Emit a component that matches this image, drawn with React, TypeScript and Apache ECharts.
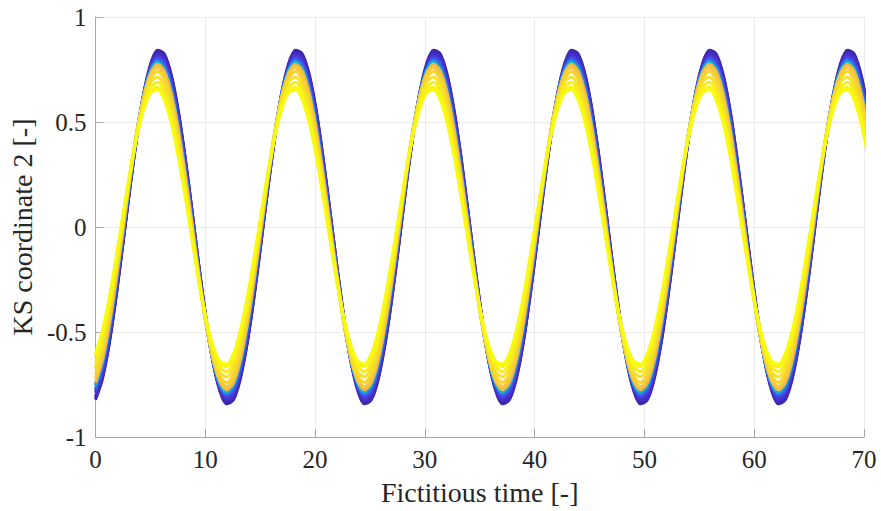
import React, { useEffect, useRef } from "react";
import * as echarts from "echarts";

// Fictitious time samples (x)
const X_SAMPLES = [
  0, 0.63, 1.26, 1.88, 2.51, 3.14, 3.77, 4.4, 5.03, 5.65,
  6.28, 6.91, 7.54, 8.17, 8.8, 9.42, 10.05, 10.68, 11.31, 11.94,
  12.57, 13.19, 13.82, 14.45, 15.08, 15.71, 16.34, 16.96, 17.59, 18.22,
  18.85, 19.48, 20.11, 20.73, 21.36, 21.99, 22.62, 23.25, 23.88, 24.5,
  25.13, 25.76, 26.39, 27.02, 27.65, 28.27, 28.9, 29.53, 30.16, 30.79,
  31.42, 32.04, 32.67, 33.3, 33.93, 34.56, 35.19, 35.81, 36.44, 37.07,
  37.7, 38.33, 38.96, 39.58, 40.21, 40.84, 41.47, 42.1, 42.73, 43.35,
  43.98, 44.61, 45.24, 45.87, 46.5, 47.12, 47.75, 48.38, 49.01, 49.64,
  50.27, 50.89, 51.52, 52.15, 52.78, 53.41, 54.04, 54.66, 55.29, 55.92,
  56.55, 57.18, 57.81, 58.43, 59.06, 59.69, 60.32, 60.95, 61.58, 62.2,
  62.83, 63.46, 64.09, 64.72, 65.35, 65.97, 66.6, 67.23, 67.86, 68.49,
  69.12, 69.74, 70.37,
];

// KS coordinate 2 of each trajectory, outer (dark blue) to inner (yellow)
const CURVE_00 = [
  -0.823, -0.724, -0.554, -0.33, -0.074, 0.19, 0.435, 0.638, 0.778, 0.842,
  0.823, 0.724, 0.554, 0.33, 0.074, -0.19, -0.435, -0.638, -0.778, -0.842,
  -0.823, -0.724, -0.554, -0.33, -0.074, 0.19, 0.435, 0.638, 0.778, 0.842,
  0.823, 0.724, 0.554, 0.33, 0.074, -0.19, -0.435, -0.638, -0.778, -0.842,
  -0.823, -0.724, -0.554, -0.33, -0.074, 0.19, 0.435, 0.638, 0.778, 0.842,
  0.823, 0.724, 0.554, 0.33, 0.074, -0.19, -0.435, -0.638, -0.778, -0.842,
  -0.823, -0.724, -0.554, -0.33, -0.074, 0.19, 0.435, 0.638, 0.778, 0.842,
  0.823, 0.724, 0.554, 0.33, 0.074, -0.19, -0.435, -0.638, -0.778, -0.842,
  -0.823, -0.724, -0.554, -0.33, -0.074, 0.19, 0.435, 0.638, 0.778, 0.842,
  0.823, 0.724, 0.554, 0.33, 0.074, -0.19, -0.435, -0.638, -0.778, -0.842,
  -0.823, -0.724, -0.554, -0.33, -0.074, 0.19, 0.435, 0.638, 0.778, 0.842,
  0.823, 0.724, 0.554,
];
const CURVE_01 = [
  -0.815, -0.717, -0.549, -0.327, -0.073, 0.188, 0.431, 0.631, 0.77, 0.833,
  0.815, 0.717, 0.549, 0.327, 0.073, -0.188, -0.431, -0.631, -0.77, -0.833,
  -0.815, -0.717, -0.549, -0.327, -0.073, 0.188, 0.431, 0.631, 0.77, 0.833,
  0.815, 0.717, 0.549, 0.327, 0.073, -0.188, -0.431, -0.631, -0.77, -0.833,
  -0.815, -0.717, -0.549, -0.327, -0.073, 0.188, 0.431, 0.631, 0.77, 0.833,
  0.815, 0.717, 0.549, 0.327, 0.073, -0.188, -0.431, -0.631, -0.77, -0.833,
  -0.815, -0.717, -0.549, -0.327, -0.073, 0.188, 0.431, 0.631, 0.77, 0.833,
  0.815, 0.717, 0.549, 0.327, 0.073, -0.188, -0.431, -0.631, -0.77, -0.833,
  -0.815, -0.717, -0.549, -0.327, -0.073, 0.188, 0.431, 0.631, 0.77, 0.833,
  0.815, 0.717, 0.549, 0.327, 0.073, -0.188, -0.431, -0.631, -0.77, -0.833,
  -0.815, -0.717, -0.549, -0.327, -0.073, 0.188, 0.431, 0.631, 0.77, 0.833,
  0.815, 0.717, 0.549,
];
const CURVE_02 = [
  -0.806, -0.709, -0.543, -0.323, -0.072, 0.186, 0.426, 0.624, 0.761, 0.824,
  0.806, 0.709, 0.543, 0.323, 0.072, -0.186, -0.426, -0.624, -0.761, -0.824,
  -0.806, -0.709, -0.543, -0.323, -0.072, 0.186, 0.426, 0.624, 0.761, 0.824,
  0.806, 0.709, 0.543, 0.323, 0.072, -0.186, -0.426, -0.624, -0.761, -0.824,
  -0.806, -0.709, -0.543, -0.323, -0.072, 0.186, 0.426, 0.624, 0.761, 0.824,
  0.806, 0.709, 0.543, 0.323, 0.072, -0.186, -0.426, -0.624, -0.761, -0.824,
  -0.806, -0.709, -0.543, -0.323, -0.072, 0.186, 0.426, 0.624, 0.761, 0.824,
  0.806, 0.709, 0.543, 0.323, 0.072, -0.186, -0.426, -0.624, -0.761, -0.824,
  -0.806, -0.709, -0.543, -0.323, -0.072, 0.186, 0.426, 0.624, 0.761, 0.824,
  0.806, 0.709, 0.543, 0.323, 0.072, -0.186, -0.426, -0.624, -0.761, -0.824,
  -0.806, -0.709, -0.543, -0.323, -0.072, 0.186, 0.426, 0.624, 0.761, 0.824,
  0.806, 0.709, 0.543,
];
const CURVE_03 = [
  -0.789, -0.685, -0.514, -0.293, -0.043, 0.211, 0.445, 0.635, 0.763, 0.816,
  0.789, 0.685, 0.514, 0.293, 0.043, -0.211, -0.445, -0.635, -0.763, -0.816,
  -0.789, -0.685, -0.514, -0.293, -0.043, 0.211, 0.445, 0.635, 0.763, 0.816,
  0.789, 0.685, 0.514, 0.293, 0.043, -0.211, -0.445, -0.635, -0.763, -0.816,
  -0.789, -0.685, -0.514, -0.293, -0.043, 0.211, 0.445, 0.635, 0.763, 0.816,
  0.789, 0.685, 0.514, 0.293, 0.043, -0.211, -0.445, -0.635, -0.763, -0.816,
  -0.789, -0.685, -0.514, -0.293, -0.043, 0.211, 0.445, 0.635, 0.763, 0.816,
  0.789, 0.685, 0.514, 0.293, 0.043, -0.211, -0.445, -0.635, -0.763, -0.816,
  -0.789, -0.685, -0.514, -0.293, -0.043, 0.211, 0.445, 0.635, 0.763, 0.816,
  0.789, 0.685, 0.514, 0.293, 0.043, -0.211, -0.445, -0.635, -0.763, -0.816,
  -0.789, -0.685, -0.514, -0.293, -0.043, 0.211, 0.445, 0.635, 0.763, 0.816,
  0.789, 0.685, 0.514,
];
const CURVE_04 = [
  -0.78, -0.678, -0.508, -0.29, -0.042, 0.209, 0.44, 0.628, 0.754, 0.807,
  0.78, 0.678, 0.508, 0.29, 0.042, -0.209, -0.44, -0.628, -0.754, -0.807,
  -0.78, -0.678, -0.508, -0.29, -0.042, 0.209, 0.44, 0.628, 0.754, 0.807,
  0.78, 0.678, 0.508, 0.29, 0.042, -0.209, -0.44, -0.628, -0.754, -0.807,
  -0.78, -0.678, -0.508, -0.29, -0.042, 0.209, 0.44, 0.628, 0.754, 0.807,
  0.78, 0.678, 0.508, 0.29, 0.042, -0.209, -0.44, -0.628, -0.754, -0.807,
  -0.78, -0.678, -0.508, -0.29, -0.042, 0.209, 0.44, 0.628, 0.754, 0.807,
  0.78, 0.678, 0.508, 0.29, 0.042, -0.209, -0.44, -0.628, -0.754, -0.807,
  -0.78, -0.678, -0.508, -0.29, -0.042, 0.209, 0.44, 0.628, 0.754, 0.807,
  0.78, 0.678, 0.508, 0.29, 0.042, -0.209, -0.44, -0.628, -0.754, -0.807,
  -0.78, -0.678, -0.508, -0.29, -0.042, 0.209, 0.44, 0.628, 0.754, 0.807,
  0.78, 0.678, 0.508,
];
const CURVE_05 = [
  -0.772, -0.67, -0.503, -0.286, -0.042, 0.207, 0.435, 0.621, 0.746, 0.798,
  0.772, 0.67, 0.503, 0.286, 0.042, -0.207, -0.435, -0.621, -0.746, -0.798,
  -0.772, -0.67, -0.503, -0.286, -0.042, 0.207, 0.435, 0.621, 0.746, 0.798,
  0.772, 0.67, 0.503, 0.286, 0.042, -0.207, -0.435, -0.621, -0.746, -0.798,
  -0.772, -0.67, -0.503, -0.286, -0.042, 0.207, 0.435, 0.621, 0.746, 0.798,
  0.772, 0.67, 0.503, 0.286, 0.042, -0.207, -0.435, -0.621, -0.746, -0.798,
  -0.772, -0.67, -0.503, -0.286, -0.042, 0.207, 0.435, 0.621, 0.746, 0.798,
  0.772, 0.67, 0.503, 0.286, 0.042, -0.207, -0.435, -0.621, -0.746, -0.798,
  -0.772, -0.67, -0.503, -0.286, -0.042, 0.207, 0.435, 0.621, 0.746, 0.798,
  0.772, 0.67, 0.503, 0.286, 0.042, -0.207, -0.435, -0.621, -0.746, -0.798,
  -0.772, -0.67, -0.503, -0.286, -0.042, 0.207, 0.435, 0.621, 0.746, 0.798,
  0.772, 0.67, 0.503,
];
const CURVE_06 = [
  -0.756, -0.648, -0.476, -0.258, -0.014, 0.231, 0.454, 0.632, 0.748, 0.791,
  0.756, 0.648, 0.476, 0.258, 0.014, -0.231, -0.454, -0.632, -0.748, -0.791,
  -0.756, -0.648, -0.476, -0.258, -0.014, 0.231, 0.454, 0.632, 0.748, 0.791,
  0.756, 0.648, 0.476, 0.258, 0.014, -0.231, -0.454, -0.632, -0.748, -0.791,
  -0.756, -0.648, -0.476, -0.258, -0.014, 0.231, 0.454, 0.632, 0.748, 0.791,
  0.756, 0.648, 0.476, 0.258, 0.014, -0.231, -0.454, -0.632, -0.748, -0.791,
  -0.756, -0.648, -0.476, -0.258, -0.014, 0.231, 0.454, 0.632, 0.748, 0.791,
  0.756, 0.648, 0.476, 0.258, 0.014, -0.231, -0.454, -0.632, -0.748, -0.791,
  -0.756, -0.648, -0.476, -0.258, -0.014, 0.231, 0.454, 0.632, 0.748, 0.791,
  0.756, 0.648, 0.476, 0.258, 0.014, -0.231, -0.454, -0.632, -0.748, -0.791,
  -0.756, -0.648, -0.476, -0.258, -0.014, 0.231, 0.454, 0.632, 0.748, 0.791,
  0.756, 0.648, 0.476,
];
const CURVE_07 = [
  -0.75, -0.642, -0.472, -0.255, -0.014, 0.229, 0.45, 0.626, 0.741, 0.784,
  0.75, 0.642, 0.472, 0.255, 0.014, -0.229, -0.45, -0.626, -0.741, -0.784,
  -0.75, -0.642, -0.472, -0.255, -0.014, 0.229, 0.45, 0.626, 0.741, 0.784,
  0.75, 0.642, 0.472, 0.255, 0.014, -0.229, -0.45, -0.626, -0.741, -0.784,
  -0.75, -0.642, -0.472, -0.255, -0.014, 0.229, 0.45, 0.626, 0.741, 0.784,
  0.75, 0.642, 0.472, 0.255, 0.014, -0.229, -0.45, -0.626, -0.741, -0.784,
  -0.75, -0.642, -0.472, -0.255, -0.014, 0.229, 0.45, 0.626, 0.741, 0.784,
  0.75, 0.642, 0.472, 0.255, 0.014, -0.229, -0.45, -0.626, -0.741, -0.784,
  -0.75, -0.642, -0.472, -0.255, -0.014, 0.229, 0.45, 0.626, 0.741, 0.784,
  0.75, 0.642, 0.472, 0.255, 0.014, -0.229, -0.45, -0.626, -0.741, -0.784,
  -0.75, -0.642, -0.472, -0.255, -0.014, 0.229, 0.45, 0.626, 0.741, 0.784,
  0.75, 0.642, 0.472,
];
const CURVE_08 = [
  -0.741, -0.635, -0.466, -0.252, -0.014, 0.227, 0.445, 0.619, 0.733, 0.775,
  0.741, 0.635, 0.466, 0.252, 0.014, -0.227, -0.445, -0.619, -0.733, -0.775,
  -0.741, -0.635, -0.466, -0.252, -0.014, 0.227, 0.445, 0.619, 0.733, 0.775,
  0.741, 0.635, 0.466, 0.252, 0.014, -0.227, -0.445, -0.619, -0.733, -0.775,
  -0.741, -0.635, -0.466, -0.252, -0.014, 0.227, 0.445, 0.619, 0.733, 0.775,
  0.741, 0.635, 0.466, 0.252, 0.014, -0.227, -0.445, -0.619, -0.733, -0.775,
  -0.741, -0.635, -0.466, -0.252, -0.014, 0.227, 0.445, 0.619, 0.733, 0.775,
  0.741, 0.635, 0.466, 0.252, 0.014, -0.227, -0.445, -0.619, -0.733, -0.775,
  -0.741, -0.635, -0.466, -0.252, -0.014, 0.227, 0.445, 0.619, 0.733, 0.775,
  0.741, 0.635, 0.466, 0.252, 0.014, -0.227, -0.445, -0.619, -0.733, -0.775,
  -0.741, -0.635, -0.466, -0.252, -0.014, 0.227, 0.445, 0.619, 0.733, 0.775,
  0.741, 0.635, 0.466,
];
const CURVE_09 = [
  -0.719, -0.607, -0.436, -0.222, 0.013, 0.247, 0.457, 0.623, 0.727, 0.76,
  0.719, 0.607, 0.436, 0.222, -0.013, -0.247, -0.457, -0.623, -0.727, -0.76,
  -0.719, -0.607, -0.436, -0.222, 0.013, 0.247, 0.457, 0.623, 0.727, 0.76,
  0.719, 0.607, 0.436, 0.222, -0.013, -0.247, -0.457, -0.623, -0.727, -0.76,
  -0.719, -0.607, -0.436, -0.222, 0.013, 0.247, 0.457, 0.623, 0.727, 0.76,
  0.719, 0.607, 0.436, 0.222, -0.013, -0.247, -0.457, -0.623, -0.727, -0.76,
  -0.719, -0.607, -0.436, -0.222, 0.013, 0.247, 0.457, 0.623, 0.727, 0.76,
  0.719, 0.607, 0.436, 0.222, -0.013, -0.247, -0.457, -0.623, -0.727, -0.76,
  -0.719, -0.607, -0.436, -0.222, 0.013, 0.247, 0.457, 0.623, 0.727, 0.76,
  0.719, 0.607, 0.436, 0.222, -0.013, -0.247, -0.457, -0.623, -0.727, -0.76,
  -0.719, -0.607, -0.436, -0.222, 0.013, 0.247, 0.457, 0.623, 0.727, 0.76,
  0.719, 0.607, 0.436,
];
const CURVE_10 = [
  -0.7, -0.591, -0.424, -0.216, 0.013, 0.241, 0.445, 0.606, 0.708, 0.74,
  0.7, 0.591, 0.424, 0.216, -0.013, -0.241, -0.445, -0.606, -0.708, -0.74,
  -0.7, -0.591, -0.424, -0.216, 0.013, 0.241, 0.445, 0.606, 0.708, 0.74,
  0.7, 0.591, 0.424, 0.216, -0.013, -0.241, -0.445, -0.606, -0.708, -0.74,
  -0.7, -0.591, -0.424, -0.216, 0.013, 0.241, 0.445, 0.606, 0.708, 0.74,
  0.7, 0.591, 0.424, 0.216, -0.013, -0.241, -0.445, -0.606, -0.708, -0.74,
  -0.7, -0.591, -0.424, -0.216, 0.013, 0.241, 0.445, 0.606, 0.708, 0.74,
  0.7, 0.591, 0.424, 0.216, -0.013, -0.241, -0.445, -0.606, -0.708, -0.74,
  -0.7, -0.591, -0.424, -0.216, 0.013, 0.241, 0.445, 0.606, 0.708, 0.74,
  0.7, 0.591, 0.424, 0.216, -0.013, -0.241, -0.445, -0.606, -0.708, -0.74,
  -0.7, -0.591, -0.424, -0.216, 0.013, 0.241, 0.445, 0.606, 0.708, 0.74,
  0.7, 0.591, 0.424,
];
const CURVE_11 = [
  -0.668, -0.556, -0.389, -0.185, 0.037, 0.256, 0.45, 0.6, 0.691, 0.714,
  0.668, 0.556, 0.389, 0.185, -0.037, -0.256, -0.45, -0.6, -0.691, -0.714,
  -0.668, -0.556, -0.389, -0.185, 0.037, 0.256, 0.45, 0.6, 0.691, 0.714,
  0.668, 0.556, 0.389, 0.185, -0.037, -0.256, -0.45, -0.6, -0.691, -0.714,
  -0.668, -0.556, -0.389, -0.185, 0.037, 0.256, 0.45, 0.6, 0.691, 0.714,
  0.668, 0.556, 0.389, 0.185, -0.037, -0.256, -0.45, -0.6, -0.691, -0.714,
  -0.668, -0.556, -0.389, -0.185, 0.037, 0.256, 0.45, 0.6, 0.691, 0.714,
  0.668, 0.556, 0.389, 0.185, -0.037, -0.256, -0.45, -0.6, -0.691, -0.714,
  -0.668, -0.556, -0.389, -0.185, 0.037, 0.256, 0.45, 0.6, 0.691, 0.714,
  0.668, 0.556, 0.389, 0.185, -0.037, -0.256, -0.45, -0.6, -0.691, -0.714,
  -0.668, -0.556, -0.389, -0.185, 0.037, 0.256, 0.45, 0.6, 0.691, 0.714,
  0.668, 0.556, 0.389,
];
const CURVE_12 = [
  -0.644, -0.536, -0.376, -0.179, 0.036, 0.247, 0.434, 0.579, 0.666, 0.689,
  0.644, 0.536, 0.376, 0.179, -0.036, -0.247, -0.434, -0.579, -0.666, -0.689,
  -0.644, -0.536, -0.376, -0.179, 0.036, 0.247, 0.434, 0.579, 0.666, 0.689,
  0.644, 0.536, 0.376, 0.179, -0.036, -0.247, -0.434, -0.579, -0.666, -0.689,
  -0.644, -0.536, -0.376, -0.179, 0.036, 0.247, 0.434, 0.579, 0.666, 0.689,
  0.644, 0.536, 0.376, 0.179, -0.036, -0.247, -0.434, -0.579, -0.666, -0.689,
  -0.644, -0.536, -0.376, -0.179, 0.036, 0.247, 0.434, 0.579, 0.666, 0.689,
  0.644, 0.536, 0.376, 0.179, -0.036, -0.247, -0.434, -0.579, -0.666, -0.689,
  -0.644, -0.536, -0.376, -0.179, 0.036, 0.247, 0.434, 0.579, 0.666, 0.689,
  0.644, 0.536, 0.376, 0.179, -0.036, -0.247, -0.434, -0.579, -0.666, -0.689,
  -0.644, -0.536, -0.376, -0.179, 0.036, 0.247, 0.434, 0.579, 0.666, 0.689,
  0.644, 0.536, 0.376,
];
const CURVE_13 = [
  -0.615, -0.504, -0.344, -0.15, 0.058, 0.261, 0.438, 0.573, 0.651, 0.665,
  0.615, 0.504, 0.344, 0.15, -0.058, -0.261, -0.438, -0.573, -0.651, -0.665,
  -0.615, -0.504, -0.344, -0.15, 0.058, 0.261, 0.438, 0.573, 0.651, 0.665,
  0.615, 0.504, 0.344, 0.15, -0.058, -0.261, -0.438, -0.573, -0.651, -0.665,
  -0.615, -0.504, -0.344, -0.15, 0.058, 0.261, 0.438, 0.573, 0.651, 0.665,
  0.615, 0.504, 0.344, 0.15, -0.058, -0.261, -0.438, -0.573, -0.651, -0.665,
  -0.615, -0.504, -0.344, -0.15, 0.058, 0.261, 0.438, 0.573, 0.651, 0.665,
  0.615, 0.504, 0.344, 0.15, -0.058, -0.261, -0.438, -0.573, -0.651, -0.665,
  -0.615, -0.504, -0.344, -0.15, 0.058, 0.261, 0.438, 0.573, 0.651, 0.665,
  0.615, 0.504, 0.344, 0.15, -0.058, -0.261, -0.438, -0.573, -0.651, -0.665,
  -0.615, -0.504, -0.344, -0.15, 0.058, 0.261, 0.438, 0.573, 0.651, 0.665,
  0.615, 0.504, 0.344,
];
const CURVE_14 = [
  -0.603, -0.494, -0.337, -0.147, 0.057, 0.256, 0.43, 0.561, 0.638, 0.653,
  0.603, 0.494, 0.337, 0.147, -0.057, -0.256, -0.43, -0.561, -0.638, -0.653,
  -0.603, -0.494, -0.337, -0.147, 0.057, 0.256, 0.43, 0.561, 0.638, 0.653,
  0.603, 0.494, 0.337, 0.147, -0.057, -0.256, -0.43, -0.561, -0.638, -0.653,
  -0.603, -0.494, -0.337, -0.147, 0.057, 0.256, 0.43, 0.561, 0.638, 0.653,
  0.603, 0.494, 0.337, 0.147, -0.057, -0.256, -0.43, -0.561, -0.638, -0.653,
  -0.603, -0.494, -0.337, -0.147, 0.057, 0.256, 0.43, 0.561, 0.638, 0.653,
  0.603, 0.494, 0.337, 0.147, -0.057, -0.256, -0.43, -0.561, -0.638, -0.653,
  -0.603, -0.494, -0.337, -0.147, 0.057, 0.256, 0.43, 0.561, 0.638, 0.653,
  0.603, 0.494, 0.337, 0.147, -0.057, -0.256, -0.43, -0.561, -0.638, -0.653,
  -0.603, -0.494, -0.337, -0.147, 0.057, 0.256, 0.43, 0.561, 0.638, 0.653,
  0.603, 0.494, 0.337,
];

const CURVES = [
  CURVE_00, CURVE_01, CURVE_02, CURVE_03, CURVE_04, CURVE_05, CURVE_06, CURVE_07,
  CURVE_08, CURVE_09, CURVE_10, CURVE_11, CURVE_12, CURVE_13, CURVE_14,
];

const CURVE_COLORS = [
  "#3e26a8", "#4129b4", "#432fc4", "#4538d2", "#4744e0", "#3c5ff0", "#1d8fe6",
  "#14b2cc", "#f0b845", "#fac83a", "#f8d52e", "#f6e125", "#f7ec1c", "#f8f514",
  "#f9fb0e",
];

const X_TICKS = [0, 10, 20, 30, 40, 50, 60, 70];
const Y_TICKS = [-1, -0.5, 0, 0.5, 1];

const X_TITLE = "Fictitious time [-]";
const Y_TITLE = "KS coordinate 2 [-]";

export default function App() {
  const ref = useRef<HTMLDivElement>(null);

  useEffect(() => {
    if (!ref.current) return;
    const chart = echarts.init(ref.current, null, { renderer: "svg" });

    chart.setOption({
      animation: false,
      backgroundColor: "#ffffff",
      grid: { left: 91, right: 17, top: 17, bottom: 74 },
      xAxis: {
        type: "value",
        min: X_TICKS[0],
        max: X_TICKS[X_TICKS.length - 1],
        interval: 10,
        name: X_TITLE,
        nameLocation: "middle",
        nameGap: 41,
        nameTextStyle: { fontFamily: "Liberation Serif", fontSize: 28, color: "#262626" },
        axisLine: { show: true, onZero: false, lineStyle: { color: "#a8a8a8", width: 1 } },
        axisTick: { show: true, inside: true, length: 8, lineStyle: { color: "#a8a8a8" } },
        axisLabel: {
          fontFamily: "Liberation Serif",
          fontSize: 25,
          color: "#262626",
          margin: 10,
        },
        splitLine: { show: true, lineStyle: { color: "#ebebeb", width: 1 } },
      },
      yAxis: {
        type: "value",
        min: Y_TICKS[0],
        max: Y_TICKS[Y_TICKS.length - 1],
        interval: 0.5,
        name: Y_TITLE,
        nameLocation: "middle",
        nameGap: 52,
        nameTextStyle: { fontFamily: "Liberation Serif", fontSize: 28, color: "#262626" },
        axisLine: { show: true, onZero: false, lineStyle: { color: "#a8a8a8", width: 1 } },
        axisTick: { show: true, inside: true, length: 8, lineStyle: { color: "#a8a8a8" } },
        axisLabel: {
          fontFamily: "Liberation Serif",
          fontSize: 25,
          color: "#262626",
          margin: 9,
        },
        splitLine: { show: true, lineStyle: { color: "#ebebeb", width: 1 } },
      },
      series: CURVES.map((curve, i) => ({
        type: "line",
        name: "traj" + i,
        data: X_SAMPLES.map((x, j) => [x, curve[j]]),
        showSymbol: false,
        symbol: "none",
        smooth: 0.3,
        clip: true,
        silent: true,
        lineStyle: { color: CURVE_COLORS[i], width: 3 },
        z: 2,
      })),
    });

    return () => chart.dispose();
  }, []);

  return (
    <div
      ref={ref}
      style={{ position: "fixed", left: 0, top: 0, width: 881, height: 511 }}
    />
  );
}
